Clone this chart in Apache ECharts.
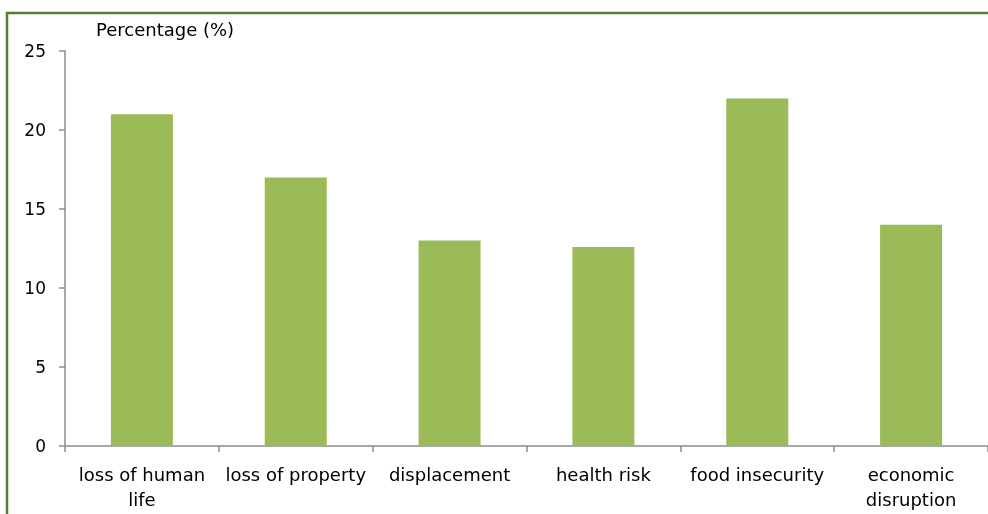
<!DOCTYPE html>
<html>
<head>
<meta charset="utf-8">
<script src="https://cdn.jsdelivr.net/npm/echarts@6/dist/echarts.min.js"></script>
<style>
  html, body { margin: 0; padding: 0; background: #fff; }
  #chart { width: 988px; height: 514px; }
</style>
</head>
<body>
<div id="chart"></div>
<script>
// chart data
const categories = ["loss of human\nlife", "loss of property", "displacement", "health risk", "food insecurity", "economic\ndisruption"];
const percentages = [21, 17, 13, 12.6, 22, 14];
const yTicks = [0, 5, 10, 15, 20, 25];

const chart = echarts.init(document.getElementById("chart"));
const axisGray = "#8c8c8c";
const font = "DejaVu Sans";

chart.setOption({
  animation: false,
  textStyle: { fontFamily: font },
  graphic: [
    {
      type: "rect",
      shape: { x: 7, y: 13, width: 1000, height: 600 },
      style: { fill: "none", stroke: "#4f7f2f", lineWidth: 2.5 }
    },
    {
      type: "text",
      left: 96,
      top: 22,
      style: { text: "Percentage (%)", fontFamily: font, fontSize: 18, fill: "#000" }
    }
  ],
  grid: { left: 65, right: -1, top: 51, bottom: 66, containLabel: false },
  xAxis: {
    type: "category",
    data: categories,
    axisLine: { lineStyle: { color: axisGray, width: 1.5 } },
    axisTick: { show: true, length: 6, lineStyle: { color: axisGray, width: 1.5 } },
    axisLabel: { color: "#000", fontSize: 18, fontFamily: font, margin: 18, lineHeight: 25, interval: 0 }
  },
  yAxis: {
    type: "value",
    min: yTicks[0],
    max: yTicks[yTicks.length - 1],
    interval: 5,
    splitLine: { show: false },
    axisLine: { show: true, lineStyle: { color: axisGray, width: 1.5 } },
    axisTick: { show: true, length: 6, lineStyle: { color: axisGray, width: 1.5 } },
    axisLabel: { color: "#000", fontSize: 17, fontFamily: font, margin: 19, verticalAlign: "top", padding: [-7, 0, 0, 0] }
  },
  series: [{
    type: "bar",
    data: percentages,
    barWidth: 62,
    itemStyle: { color: "#9bbb59" }
  }]
});
</script>
</body>
</html>
